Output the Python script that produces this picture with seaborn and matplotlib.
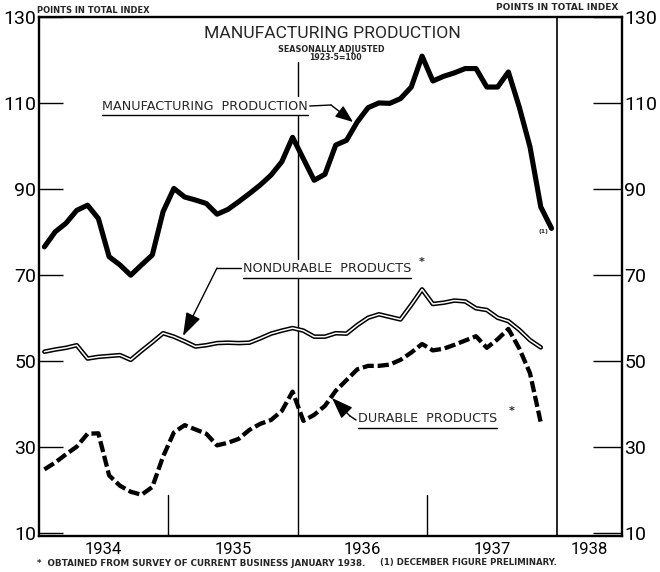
import numpy as np
import pandas as pd
import matplotlib
matplotlib.use("Agg")
import matplotlib.pyplot as plt
import seaborn as sns
from matplotlib.lines import Line2D
from matplotlib.transforms import IdentityTransform
from matplotlib import font_manager as fm

# ---------------- data (monthly, Jan 1934 .. Dec 1937) ----------------
year_labels = ["1934", "1935", "1936", "1937", "1938"]
y_ticks = [10, 30, 50, 70, 90, 110, 130]

manufacturing = [76.5, 80.0, 82.0, 85.0, 86.2, 83.1, 74.2, 72.3, 69.9, 72.3, 74.6, 84.7,
                 90.1, 88.1, 87.4, 86.6, 84.1, 85.2, 87.0, 88.9, 90.9, 93.2, 96.3, 102.0,
                 97.0, 92.0, 93.4, 100.2, 101.3, 105.6, 108.9, 110.0, 109.9, 111.0, 113.7, 120.9,
                 115.1, 116.2, 117.0, 118.0, 118.0, 113.7, 113.7, 117.2, 109.1, 99.8, 85.8, 80.8]

nondurable = [52.1, 52.6, 53.0, 53.6, 50.5, 50.9, 51.1, 51.3, 50.2, 52.3, 54.3, 56.4,
              55.6, 54.5, 53.3, 53.6, 54.1, 54.2, 54.1, 54.2, 55.2, 56.3, 57.0, 57.6,
              57.0, 55.6, 55.6, 56.4, 56.3, 58.3, 60.0, 60.8, 60.2, 59.6, 63.0, 66.6,
              63.2, 63.5, 64.0, 63.8, 62.2, 61.8, 60.0, 59.2, 57.2, 54.8, 53.1]

durable = [24.7, 26.3, 28.2, 30.0, 33.0, 33.1, 23.3, 20.9, 19.5, 18.8, 20.6, 27.7,
           33.3, 35.0, 34.0, 33.0, 30.3, 30.9, 31.8, 33.9, 35.3, 36.2, 38.3, 42.8,
           36.0, 37.4, 39.5, 43.0, 45.5, 48.0, 48.8, 48.8, 49.1, 50.2, 51.9, 53.9,
           52.4, 52.8, 53.7, 54.7, 55.7, 53.0, 55.0, 57.4, 52.9, 47.1, 35.6]

# month index -> mid-month position
mfg_x = np.arange(len(manufacturing)) + 0.5
non_x = np.arange(len(nondurable)) + 0.5
dur_x = np.arange(len(durable)) + 0.5

df_m = pd.DataFrame({"x": mfg_x, "v": manufacturing})
df_n = pd.DataFrame({"x": non_x, "v": nondurable})
df_d = pd.DataFrame({"x": dur_x, "v": durable})

# ---------------- style ----------------
sns.set_theme(style="white")
plt.rcParams["font.family"] = ["DejaVu Sans"]


def has_font(name):
    try:
        fm.findfont(fm.FontProperties(family=name), fallback_to_default=False)
        return True
    except Exception:
        return False


NARROW = "Roboto" if has_font("Roboto") else "DejaVu Sans"

W, H = 660, 572
fig = plt.figure(figsize=(W / 100, H / 100), dpi=100)
fig.patch.set_facecolor("white")
L, R, T, B = 39, 621.7, 17, 536
ax = fig.add_axes([L / W, 1 - B / H, (R - L) / W, (B - T) / H])
ax.set_facecolor("white")


def fp(px, py):
    return (px / W, 1 - py / H)


# series
sns.lineplot(data=df_m, x="x", y="v", ax=ax, color="black", linewidth=3.7, zorder=4)
sns.lineplot(data=df_n, x="x", y="v", ax=ax, color="black", linewidth=3.3, zorder=4)
sns.lineplot(data=df_n, x="x", y="v", ax=ax, color="white", linewidth=1.1, zorder=5)
sns.lineplot(data=df_d, x="x", y="v", ax=ax, color="black", linewidth=3.1,
             linestyle=(0, (2.6, 0.9)), zorder=4)

ax.set_xlim(0, 54)
ax.set_ylim(9.2, 130)
ax.set_xlabel("")
ax.set_ylabel("")

# vertical year dividers
ax.axvline(24, ymin=0, ymax=0.913, color="black", lw=1.0, zorder=2)
ax.axvline(48, color="black", lw=1.2, zorder=2)
ax.axvline(12, ymin=0, ymax=0.079, color="black", lw=1.0, zorder=2)
ax.axvline(36, ymin=0, ymax=0.079, color="black", lw=1.0, zorder=2)

for s in ax.spines.values():
    s.set_color("black")
    s.set_linewidth(1.7)
    s.set_visible(True)

ax.set_xticks([6, 18, 30, 42, 51])
ax.set_xticklabels(year_labels, family=NARROW)
ax.tick_params(axis="x", length=0, labelsize=12, pad=4, colors="black")

ax.set_yticks(y_ticks)
ax.set_yticklabels([str(v) for v in y_ticks], family=NARROW)
ax.tick_params(axis="y", direction="in", length=17, width=1.0, labelsize=14,
               pad=2, colors="black", left=True)

ax2 = ax.twinx()
ax2.set_ylim(ax.get_ylim())
ax2.set_yticks(y_ticks)
ax2.set_yticklabels([str(v) for v in y_ticks], family=NARROW)
ax2.tick_params(axis="y", direction="in", length=21, width=1.0, labelsize=14,
                pad=2, colors="black", right=True)
ax2.grid(False)
ax.grid(False)
for s in ax2.spines.values():
    s.set_visible(False)

# ---------------- texts ----------------
title = fig.text(*fp(332, 33), "MANUFACTURING PRODUCTION", ha="center", va="center",
                 fontsize=16, family=NARROW)
fig.canvas.draw()
rend = fig.canvas.get_renderer()
tw = title.get_window_extent(rend).width
title.set_fontsize(min(16.5, 16 * 257 / tw))

fig.text(*fp(331, 49), "SEASONALLY ADJUSTED", ha="center", va="center",
         fontsize=5.8, fontweight="bold")
fig.text(*fp(335, 57.5), "1923-5=100", ha="center", va="center",
         fontsize=5.6, fontweight="bold")
fig.text(*fp(37, 10.5), "POINTS IN TOTAL INDEX", ha="left", va="center",
         fontsize=6.0, fontweight="bold")
fig.text(*fp(618, 7.5), "POINTS IN TOTAL INDEX", ha="right", va="center",
         fontsize=6.5, fontweight="bold")
fig.text(*fp(37, 563), "*  OBTAINED FROM SURVEY OF CURRENT BUSINESS JANUARY 1938.",
         ha="left", va="center", fontsize=6.3, fontweight="bold")
fig.text(*fp(380, 563), "(1) DECEMBER FIGURE PRELIMINARY.",
         ha="left", va="center", fontsize=6.2, fontweight="bold")

box = dict(facecolor="white", edgecolor="none", pad=1.5)
t_m = fig.text(*fp(102, 106), "MANUFACTURING  PRODUCTION", ha="left", va="center",
               fontsize=9.2, bbox=box, zorder=6)
t_n = fig.text(*fp(243, 269), "NONDURABLE  PRODUCTS", ha="left", va="center",
               fontsize=9.2, bbox=box, zorder=6)
t_d = fig.text(*fp(358, 419), "DURABLE  PRODUCTS", ha="left", va="center",
               fontsize=9.2, bbox=box, zorder=6)
fig.text(*fp(422, 262), "*", ha="center", va="center", fontsize=8, fontweight="bold")
fig.text(*fp(512, 411), "*", ha="center", va="center", fontsize=8, fontweight="bold")
fig.text(*fp(543, 232), "(1)", ha="center", va="center", fontsize=4.5, fontweight="bold")

fig.canvas.draw()
rend = fig.canvas.get_renderer()
for t in (t_m, t_n, t_d):
    bb = t.get_window_extent(rend)
    yline = bb.y0 - 2.5
    fig.add_artist(Line2D([bb.x0, bb.x1], [yline, yline], transform=IdentityTransform(),
                          color="black", lw=1.0, zorder=7))


def leader(points, tip, hl=0.9, hw=0.35):
    xs = [p[0] / W for p in points]
    ys = [1 - p[1] / H for p in points]
    fig.add_artist(Line2D(xs, ys, transform=fig.transFigure, color="black", lw=1.0, zorder=7))
    ax.annotate("", xy=fp(*tip), xycoords="figure fraction",
                xytext=fp(*points[-1]), textcoords="figure fraction",
                arrowprops=dict(arrowstyle=f"-|>,head_length={hl},head_width={hw}",
                                color="black", lw=1.0, shrinkA=0, shrinkB=0),
                zorder=7)


bbm = t_m.get_window_extent(rend)
leader([(bbm.x1 + 2, 106), (331, 105)], (353, 122))
leader([(241, 268), (217, 268)], (183, 336), hl=1.2, hw=0.4)
leader([(356, 420), (350, 416)], (332, 398), hl=1.1, hw=0.4)

fig.savefig("out.png", dpi=100, facecolor="white")
